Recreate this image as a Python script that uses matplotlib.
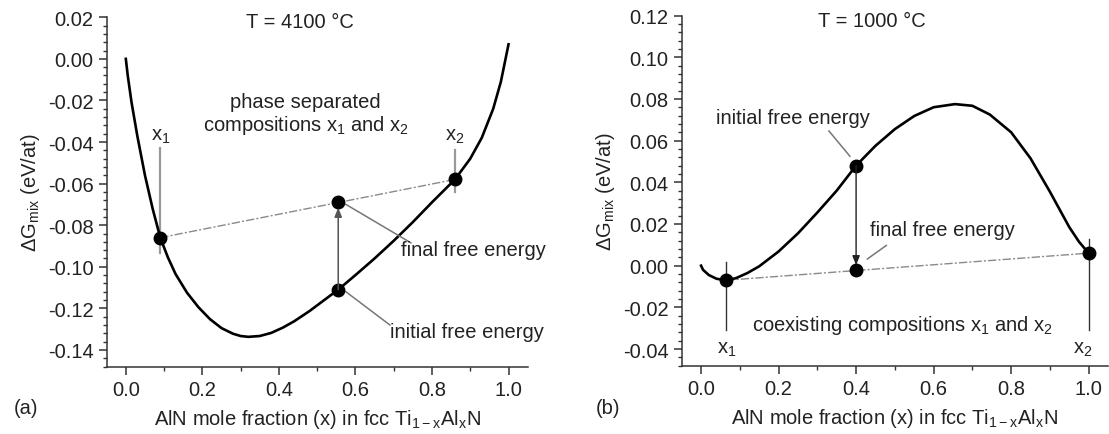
import numpy as np
import matplotlib
matplotlib.use('Agg')
import matplotlib.pyplot as plt
from matplotlib.ticker import MultipleLocator, AutoMinorLocator, FormatStrFormatter

plt.rcParams['font.family'] = ['Liberation Sans', 'DejaVu Sans']
plt.rcParams['mathtext.fontset'] = 'custom'
plt.rcParams['mathtext.rm'] = 'Liberation Sans'
plt.rcParams['axes.unicode_minus'] = False

# free energy of mixing at 4100 C
hot_x = [0.0, 0.005, 0.015, 0.03, 0.05, 0.07, 0.09, 0.11, 0.13, 0.16, 0.19, 0.22, 0.25,
         0.28, 0.30, 0.32, 0.35, 0.38, 0.41, 0.44, 0.48, 0.52, 0.555, 0.60, 0.65, 0.70,
         0.75, 0.80, 0.86, 0.90, 0.93, 0.96, 0.98, 0.99, 1.0]
hot_g = [0.0, -0.008, -0.021, -0.037, -0.056, -0.072, -0.086, -0.0955, -0.1035, -0.1125,
         -0.1195, -0.1252, -0.1295, -0.1322, -0.1333, -0.1337, -0.1333, -0.1318, -0.1293,
         -0.1262, -0.1213, -0.1158, -0.111, -0.104, -0.096, -0.0875, -0.0785, -0.069,
         -0.058, -0.048, -0.038, -0.024, -0.011, -0.002, 0.007]
hot_x1, hot_x2, hot_x0 = 0.09, 0.86, 0.555
hot_g1, hot_g2, hot_g0 = -0.086, -0.058, -0.111
hot_gfin = -0.069

# free energy of mixing at 1000 C
cold_x = [0.0, 0.005, 0.02, 0.04, 0.065, 0.09, 0.12, 0.15, 0.20, 0.25, 0.30, 0.35, 0.40,
          0.45, 0.50, 0.55, 0.60, 0.655, 0.70, 0.745, 0.80, 0.85, 0.90, 0.95, 0.975, 1.0]
cold_g = [0.0, -0.002, -0.0045, -0.0063, -0.007, -0.006, -0.0035, -0.0003, 0.0068, 0.0155,
          0.0255, 0.036, 0.048, 0.0575, 0.0655, 0.0718, 0.076, 0.0775, 0.0767, 0.0725,
          0.064, 0.0515, 0.0355, 0.0185, 0.0115, 0.006]
cold_x1, cold_x2, cold_x0 = 0.065, 1.0, 0.40
cold_g1, cold_g2, cold_g0 = -0.007, 0.006, 0.048
cold_gfin = -0.0023

fs = 14.5
txt = '#222222'
fig = plt.figure(figsize=(11.09, 4.35), dpi=100)
axa = fig.add_axes([0.0962, 0.155, 0.3796, 0.803])
axb = fig.add_axes([0.6147, 0.157, 0.3844, 0.805])


def style(ax, ylo, yhi):
    ax.set_xlim(-0.05, 1.05)
    ax.set_ylim(ylo, yhi)
    for s in ['top', 'right']:
        ax.spines[s].set_visible(False)
    for s in ['left', 'bottom']:
        ax.spines[s].set_linewidth(1.1)
        ax.spines[s].set_color('#333333')
    ax.xaxis.set_major_locator(MultipleLocator(0.2))
    ax.xaxis.set_minor_locator(AutoMinorLocator(2))
    ax.yaxis.set_major_locator(MultipleLocator(0.02))
    ax.yaxis.set_minor_locator(AutoMinorLocator(5))
    ax.xaxis.set_major_formatter(FormatStrFormatter('%.1f'))
    ax.yaxis.set_major_formatter(FormatStrFormatter('%.2f'))
    ax.tick_params(which='major', length=6, width=1.1, labelsize=fs, colors='#333333',
                   labelcolor=txt)
    ax.tick_params(which='minor', length=3, width=1.0, colors='#333333')
    ax.set_xlabel('AlN mole fraction (x) in fcc Ti$_\\mathregular{1-x}$Al$_\\mathregular{x}$N',
                  fontsize=fs, color=txt, labelpad=6)
    ax.set_ylabel('ΔG$_\\mathregular{mix}$ (eV/at)', fontsize=fs, color=txt, labelpad=4)


style(axa, -0.148, 0.02)
style(axb, -0.048, 0.12)

tie = dict(color='#8a8a8a', lw=1.0, ls=(0, (6, 1.5, 1.5, 1.5)))
lead = dict(color='#777777', lw=1.1)

# (a) 4100 C
axa.plot([hot_x1, hot_x2], [hot_g1, hot_g2], **tie)
axa.plot([hot_x1, hot_x1], [-0.0935, -0.043], color='#999999', lw=1.6)
axa.plot([hot_x2, hot_x2], [-0.064, -0.044], color='#999999', lw=1.6)
axa.plot(hot_x, hot_g, color='black', lw=1.9)
axa.annotate('', xy=(hot_x0, hot_gfin - 0.0025), xytext=(hot_x0, hot_g0),
             arrowprops=dict(arrowstyle='-|>,head_length=0.55,head_width=0.22',
                             color='#555555', lw=1.1, shrinkA=0, shrinkB=0))
axa.plot([hot_x0 + 0.02, 0.745], [hot_gfin - 0.001, -0.0885], **lead)
axa.plot([hot_x0 + 0.02, 0.69], [hot_g0 - 0.001, -0.128], **lead)
axa.plot([hot_x1, hot_x2, hot_x0, hot_x0], [hot_g1, hot_g2, hot_gfin, hot_g0], 'o',
         color='black', ms=9)
axa.text(0.455, 0.0178, 'T = 4100 °C', ha='center', va='center', fontsize=fs, color=txt)
axa.text(0.47, -0.0265,
         'phase separated\ncompositions x$_\\mathregular{1}$ and x$_\\mathregular{2}$',
         ha='center', va='center', fontsize=fs, color=txt, linespacing=1.15)
axa.text(hot_x1, -0.037, 'x$_\\mathregular{1}$', ha='center', va='center', fontsize=fs, color=txt)
axa.text(hot_x2, -0.037, 'x$_\\mathregular{2}$', ha='center', va='center', fontsize=fs, color=txt)
axa.text(0.72, -0.0915, 'final free energy', ha='left', va='center', fontsize=fs, color=txt)
axa.text(0.69, -0.131, 'initial free energy', ha='left', va='center', fontsize=fs, color=txt)

# (b) 1000 C
axb.plot([cold_x1, cold_x2], [cold_g1, cold_g2], **tie)
axb.plot([cold_x1, cold_x1], [0.0016, -0.031], color='#333333', lw=1.0)
axb.plot([cold_x2, cold_x2], [0.013, -0.031], color='#333333', lw=1.0)
axb.plot(cold_x, cold_g, color='black', lw=1.9)
axb.annotate('', xy=(cold_x0, cold_gfin + 0.0025), xytext=(cold_x0, cold_g0),
             arrowprops=dict(arrowstyle='-|>,head_length=0.55,head_width=0.22',
                             color='#222222', lw=1.0, shrinkA=0, shrinkB=0))
axb.plot([0.384, 0.33], [0.0525, 0.0646], **lead)
axb.plot([0.429, 0.478], [0.0032, 0.0097], **lead)
axb.plot([cold_x1, cold_x2, cold_x0, cold_x0], [cold_g1, cold_g2, cold_g0, cold_gfin], 'o',
         color='black', ms=9)
axb.text(0.442, 0.1178, 'T = 1000 °C', ha='center', va='center', fontsize=fs, color=txt)
axb.text(0.238, 0.071, 'initial free energy', ha='center', va='center', fontsize=fs, color=txt)
axb.text(0.622, 0.0173, 'final free energy', ha='center', va='center', fontsize=fs, color=txt)
axb.text(0.519, -0.0283, 'coexisting compositions x$_\\mathregular{1}$ and x$_\\mathregular{2}$',
         ha='center', va='center', fontsize=fs, color=txt)
axb.text(cold_x1, -0.0396, 'x$_\\mathregular{1}$', ha='center', va='center', fontsize=fs, color=txt)
axb.text(0.984, -0.0396, 'x$_\\mathregular{2}$', ha='center', va='center', fontsize=fs, color=txt)

fig.text(0.012, 0.062, '(a)', fontsize=fs, color=txt, va='center')
fig.text(0.537, 0.062, '(b)', fontsize=fs, color=txt, va='center')

fig.savefig('out.png', dpi=100)
